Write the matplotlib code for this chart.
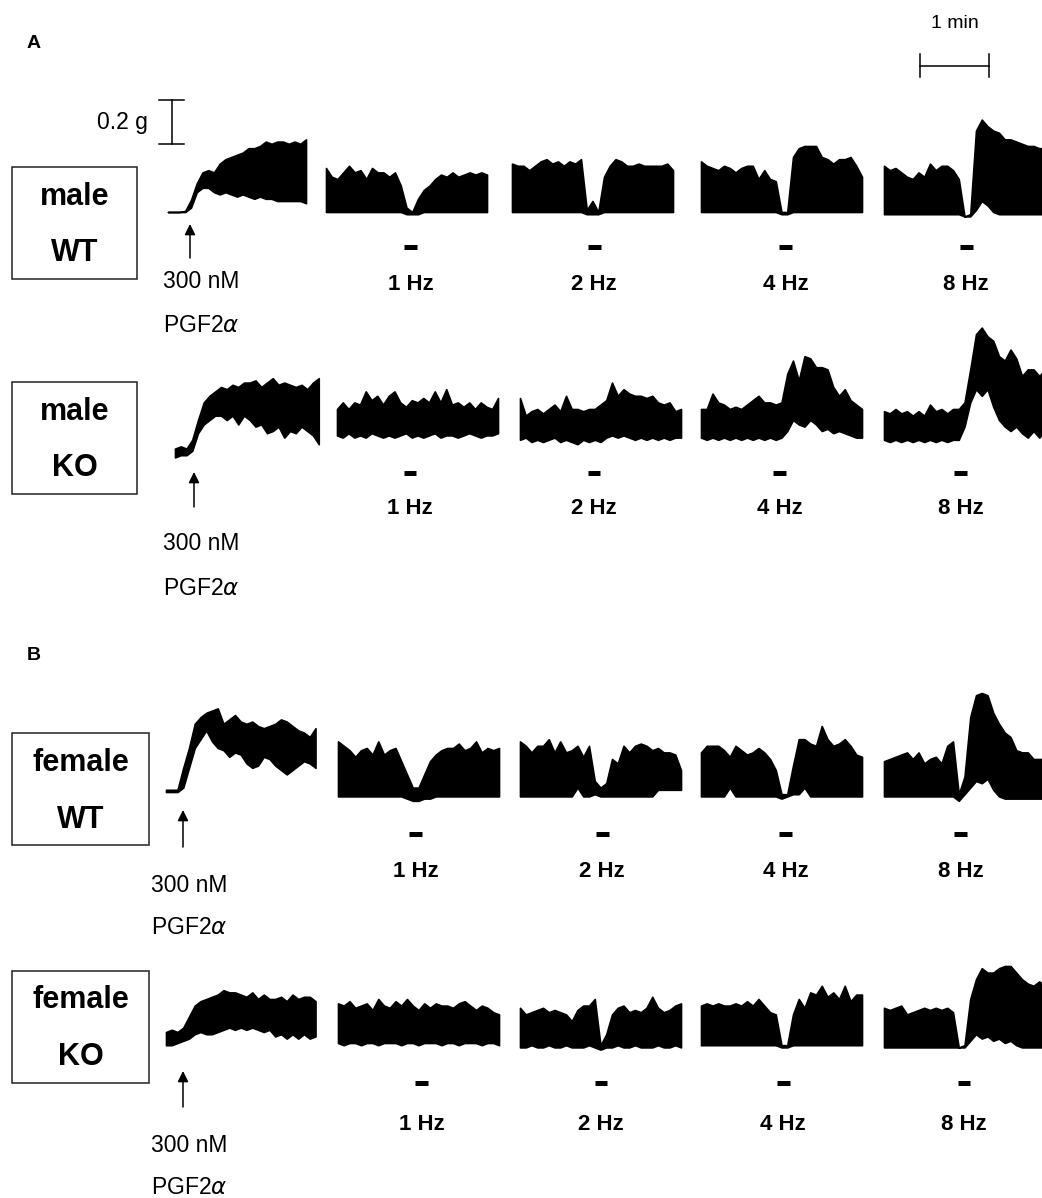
import numpy as np
import matplotlib.pyplot as plt
from matplotlib.patches import Rectangle

plt.rcParams["font.family"] = ["Liberation Sans", "DejaVu Sans"]

W, H = 1042, 1198
PX_PER_S = 69 / 60.0      # 1 min scale bar is 69 px long
PX_PER_G = 44 / 0.2       # 0.2 g scale bar is 44 px tall
STEP_S = 5                # envelopes are read every 5 s

# tension envelopes (g above the resting level), one value every 5 s
# male WT
MWT_PGF_HI = [0.00, 0.00, 0.00, 0.005, 0.055, 0.13, 0.18, 0.19, 0.18, 0.22, 0.24, 0.25, 0.26,
              0.27, 0.29, 0.29, 0.30, 0.32, 0.31, 0.32, 0.32, 0.31, 0.32, 0.31, 0.33]
MWT_PGF_LO = [0.00, 0.00, 0.00, 0.00, 0.02, 0.09, 0.11, 0.11, 0.09, 0.08, 0.09, 0.08, 0.07,
              0.08, 0.07, 0.06, 0.07, 0.06, 0.06, 0.05, 0.05, 0.05, 0.05, 0.05, 0.04]
MWT_1HZ_HI = [0.20, 0.16, 0.15, 0.18, 0.21, 0.18, 0.19, 0.15, 0.20, 0.18, 0.18, 0.16, 0.18, 0.12, 0.02,
              0.00, 0.06, 0.10, 0.12, 0.15, 0.17, 0.16, 0.18, 0.16, 0.17, 0.18, 0.17, 0.18, 0.17]
MWT_1HZ_LO = [0.00, 0.00, 0.00, 0.00, 0.00, 0.00, 0.00, 0.00, 0.00, 0.00, 0.00, 0.00, 0.00, 0.00, -0.01,
              -0.01, -0.01, 0.00, 0.00, 0.00, 0.00, 0.00, 0.00, 0.00, 0.00, 0.00, 0.00, 0.00, 0.00]
MWT_2HZ_HI = [0.22, 0.21, 0.21, 0.19, 0.21, 0.23, 0.24, 0.22, 0.23, 0.21, 0.23, 0.22, 0.24, 0.01, 0.05,
              0.00, 0.16, 0.21, 0.24, 0.23, 0.21, 0.21, 0.22, 0.21, 0.21, 0.21, 0.21, 0.22, 0.19]
MWT_2HZ_LO = [0.00, 0.00, 0.00, 0.00, 0.00, 0.00, 0.00, 0.00, 0.00, 0.00, 0.00, 0.00, 0.00, -0.01, -0.01,
              -0.01, 0.00, 0.00, 0.00, 0.00, 0.00, 0.00, 0.00, 0.00, 0.00, 0.00, 0.00, 0.00, 0.00]
MWT_4HZ_HI = [0.23, 0.21, 0.20, 0.19, 0.21, 0.20, 0.18, 0.20, 0.21, 0.21, 0.15, 0.19, 0.15, 0.14, 0.00,
              0.00, 0.25, 0.29, 0.30, 0.30, 0.30, 0.25, 0.24, 0.22, 0.24, 0.24, 0.25, 0.21, 0.16]
MWT_4HZ_LO = [0.00, 0.00, 0.00, 0.00, 0.00, 0.00, 0.00, 0.00, 0.00, 0.00, 0.00, 0.00, 0.00, 0.00, -0.01,
              -0.01, 0.00, 0.00, 0.00, 0.00, 0.00, 0.00, 0.00, 0.00, 0.00, 0.00, 0.00, 0.00, 0.00]
MWT_8HZ_HI = [0.21, 0.19, 0.20, 0.18, 0.16, 0.15, 0.18, 0.16, 0.22, 0.19, 0.21, 0.21, 0.19, 0.15, -0.02,
              -0.01, 0.37, 0.42, 0.39, 0.37, 0.36, 0.33, 0.33, 0.32, 0.31, 0.30, 0.30, 0.29, 0.29]
MWT_8HZ_LO = [-0.01, -0.01, -0.01, -0.01, -0.01, -0.01, -0.01, -0.01, -0.01, -0.01, -0.01, -0.01, -0.01,
              -0.01, -0.02, -0.02, 0.01, 0.05, 0.03, 0.00, -0.01, -0.01, -0.01, -0.01, -0.01, -0.01,
              -0.01, -0.01, -0.01]

# male KO
MKO_PGF_HI = [0.02, 0.03, 0.02, 0.06, 0.15, 0.23, 0.26, 0.28, 0.30, 0.29, 0.31, 0.30, 0.32,
              0.32, 0.33, 0.30, 0.32, 0.34, 0.31, 0.32, 0.31, 0.30, 0.31, 0.29, 0.32, 0.34]
MKO_PGF_LO = [-0.02, -0.01, -0.01, 0.01, 0.09, 0.13, 0.15, 0.17, 0.17, 0.15, 0.17, 0.13, 0.17,
              0.15, 0.12, 0.13, 0.09, 0.10, 0.12, 0.07, 0.10, 0.09, 0.12, 0.10, 0.08, 0.04]
MKO_1HZ_HI = [0.20, 0.23, 0.20, 0.23, 0.22, 0.28, 0.24, 0.26, 0.22, 0.26, 0.28, 0.23, 0.21, 0.24, 0.23,
              0.25, 0.23, 0.28, 0.23, 0.29, 0.22, 0.23, 0.21, 0.23, 0.20, 0.23, 0.21, 0.20, 0.25]
MKO_1HZ_LO = [0.08, 0.07, 0.09, 0.07, 0.08, 0.07, 0.09, 0.08, 0.07, 0.08, 0.07, 0.08, 0.09, 0.07, 0.08,
              0.07, 0.08, 0.09, 0.07, 0.08, 0.08, 0.07, 0.08, 0.09, 0.08, 0.07, 0.08, 0.08, 0.09]
MKO_2HZ_HI = [0.25, 0.17, 0.19, 0.20, 0.18, 0.20, 0.22, 0.19, 0.26, 0.20, 0.20, 0.19, 0.20, 0.20, 0.22,
              0.24, 0.32, 0.26, 0.29, 0.27, 0.26, 0.26, 0.25, 0.26, 0.23, 0.22, 0.23, 0.19, 0.20]
MKO_2HZ_LO = [0.06, 0.07, 0.05, 0.06, 0.05, 0.06, 0.07, 0.05, 0.06, 0.05, 0.04, 0.06, 0.05, 0.06, 0.05,
              0.07, 0.08, 0.07, 0.08, 0.07, 0.06, 0.07, 0.06, 0.07, 0.06, 0.07, 0.06, 0.07, 0.07]
MKO_4HZ_HI = [0.20, 0.20, 0.27, 0.23, 0.22, 0.20, 0.21, 0.20, 0.22, 0.24, 0.26, 0.23, 0.23, 0.22, 0.23,
              0.36, 0.42, 0.33, 0.44, 0.43, 0.39, 0.39, 0.38, 0.30, 0.26, 0.29, 0.24, 0.22, 0.20]
MKO_4HZ_LO = [0.07, 0.06, 0.07, 0.06, 0.07, 0.06, 0.07, 0.06, 0.07, 0.06, 0.07, 0.06, 0.07, 0.06, 0.07,
              0.10, 0.15, 0.13, 0.12, 0.15, 0.13, 0.10, 0.11, 0.09, 0.10, 0.09, 0.08, 0.07, 0.07]
MKO_8HZ_HI = [0.19, 0.18, 0.20, 0.18, 0.19, 0.17, 0.19, 0.17, 0.22, 0.19, 0.20, 0.18, 0.20, 0.20, 0.23,
              0.38, 0.54, 0.57, 0.53, 0.51, 0.44, 0.42, 0.47, 0.43, 0.35, 0.38, 0.38, 0.35, 0.38]
MKO_8HZ_LO = [0.06, 0.05, 0.06, 0.05, 0.06, 0.05, 0.06, 0.05, 0.06, 0.05, 0.06, 0.05, 0.06, 0.06, 0.12,
              0.23, 0.29, 0.26, 0.29, 0.21, 0.15, 0.12, 0.10, 0.12, 0.09, 0.07, 0.10, 0.07, 0.10]

# female WT
FWT_PGF_HI = [0.01, 0.01, 0.01, 0.11, 0.20, 0.31, 0.34, 0.36, 0.37, 0.38, 0.31, 0.33, 0.35, 0.32,
              0.31, 0.32, 0.30, 0.29, 0.30, 0.31, 0.33, 0.32, 0.30, 0.28, 0.27, 0.25, 0.29]
FWT_PGF_LO = [0.00, 0.00, 0.00, 0.02, 0.11, 0.20, 0.24, 0.28, 0.23, 0.20, 0.19, 0.16, 0.18, 0.17,
              0.13, 0.11, 0.12, 0.16, 0.15, 0.12, 0.10, 0.08, 0.10, 0.12, 0.14, 0.13, 0.11]
FWT_1HZ_HI = [0.23, 0.21, 0.19, 0.16, 0.19, 0.20, 0.17, 0.23, 0.17, 0.19, 0.20, 0.14, 0.08, 0.02, 0.02,
              0.08, 0.14, 0.17, 0.19, 0.20, 0.20, 0.22, 0.19, 0.20, 0.23, 0.18, 0.20, 0.19, 0.20]
FWT_1HZ_LO = [-0.02, -0.02, -0.02, -0.02, -0.02, -0.02, -0.02, -0.02, -0.02, -0.02, -0.02, -0.02, -0.03,
              -0.04, -0.04, -0.03, -0.03, -0.02, -0.02, -0.02, -0.02, -0.02, -0.02, -0.02, -0.02, -0.02,
              -0.02, -0.02, -0.02]
FWT_2HZ_HI = [0.23, 0.21, 0.18, 0.21, 0.21, 0.24, 0.18, 0.23, 0.18, 0.19, 0.21, 0.16, 0.21, 0.05, 0.02,
              0.04, 0.15, 0.13, 0.21, 0.18, 0.21, 0.22, 0.21, 0.19, 0.20, 0.18, 0.18, 0.17, 0.10]
FWT_2HZ_LO = [-0.02, -0.02, -0.02, -0.02, -0.02, -0.02, -0.02, -0.02, -0.02, -0.02, 0.02, -0.02, -0.02,
              -0.01, -0.02, -0.02, -0.02, -0.02, -0.02, -0.02, -0.02, -0.02, -0.02, -0.02, 0.01, 0.01,
              0.01, 0.01, 0.01]
FWT_4HZ_HI = [0.18, 0.21, 0.21, 0.21, 0.19, 0.16, 0.21, 0.19, 0.17, 0.18, 0.20, 0.18, 0.15, 0.10, -0.01,
              -0.01, 0.12, 0.24, 0.24, 0.22, 0.21, 0.30, 0.24, 0.21, 0.22, 0.24, 0.21, 0.17, 0.16]
FWT_4HZ_LO = [-0.02, -0.02, -0.02, -0.02, -0.02, 0.02, -0.02, -0.02, -0.02, -0.02, -0.02, -0.02, -0.02,
              -0.02, -0.03, -0.02, -0.01, -0.01, 0.02, -0.02, -0.02, -0.02, -0.02, -0.02, -0.02, -0.02,
              -0.02, -0.02, -0.02]
FWT_8HZ_HI = [0.14, 0.15, 0.16, 0.17, 0.18, 0.15, 0.18, 0.13, 0.15, 0.16, 0.13, 0.21, 0.23, -0.01, 0.07,
              0.34, 0.44, 0.45, 0.44, 0.36, 0.31, 0.27, 0.25, 0.19, 0.18, 0.18, 0.15, 0.15, 0.15]
FWT_8HZ_LO = [-0.02, -0.02, -0.02, -0.02, -0.02, -0.02, -0.02, -0.02, -0.02, -0.02, -0.02, -0.02, -0.02,
              -0.04, -0.01, 0.02, 0.05, 0.04, 0.06, 0.01, -0.02, -0.03, -0.03, -0.03, -0.03, -0.03,
              -0.03, -0.03, -0.03]

# female KO
FKO_PGF_HI = [0.05, 0.06, 0.05, 0.07, 0.12, 0.17, 0.19, 0.20, 0.21, 0.22, 0.24, 0.23, 0.23, 0.22,
              0.21, 0.23, 0.20, 0.22, 0.20, 0.20, 0.21, 0.19, 0.22, 0.20, 0.21, 0.21, 0.19]
FKO_PGF_LO = [-0.01, -0.01, 0.00, 0.01, 0.02, 0.04, 0.05, 0.04, 0.04, 0.05, 0.06, 0.07, 0.06, 0.07,
              0.06, 0.07, 0.06, 0.05, 0.06, 0.03, 0.04, 0.02, 0.04, 0.02, 0.04, 0.02, 0.03]
FKO_1HZ_HI = [0.18, 0.17, 0.19, 0.16, 0.17, 0.18, 0.15, 0.20, 0.17, 0.16, 0.19, 0.17, 0.20, 0.17, 0.15,
              0.18, 0.16, 0.18, 0.17, 0.17, 0.16, 0.18, 0.19, 0.17, 0.15, 0.17, 0.16, 0.14, 0.13]
FKO_1HZ_LO = [0.00, -0.01, 0.00, 0.00, -0.01, 0.00, 0.00, -0.01, 0.00, 0.00, 0.00, -0.01, 0.00, 0.00,
              -0.01, 0.00, 0.00, 0.00, -0.01, 0.00, 0.00, -0.01, 0.00, 0.00, 0.00, -0.01, 0.00, 0.00, -0.01]
FKO_2HZ_HI = [0.16, 0.13, 0.14, 0.15, 0.16, 0.14, 0.15, 0.14, 0.13, 0.10, 0.15, 0.17, 0.17, 0.20, -0.01,
              0.04, 0.13, 0.16, 0.17, 0.14, 0.15, 0.14, 0.16, 0.21, 0.16, 0.14, 0.15, 0.17, 0.18]
FKO_2HZ_LO = [-0.02, -0.02, -0.01, -0.02, -0.02, -0.01, -0.02, -0.02, -0.01, -0.02, -0.02, -0.02, -0.01,
              -0.02, -0.03, -0.02, -0.02, -0.01, -0.02, -0.02, -0.01, -0.02, -0.02, -0.02, -0.01, -0.02,
              -0.02, -0.01, -0.02]
FKO_4HZ_HI = [0.17, 0.18, 0.17, 0.18, 0.17, 0.17, 0.18, 0.17, 0.19, 0.17, 0.20, 0.17, 0.14, 0.13, -0.01,
              -0.01, 0.13, 0.20, 0.16, 0.23, 0.22, 0.26, 0.21, 0.23, 0.20, 0.26, 0.19, 0.22, 0.22]
FKO_4HZ_LO = [-0.01, -0.01, -0.01, -0.01, -0.01, -0.01, -0.01, -0.01, -0.01, -0.01, -0.01, -0.01, -0.01,
              -0.01, -0.02, -0.02, -0.01, -0.01, -0.01, -0.01, -0.01, -0.01, -0.01, -0.01, -0.01, -0.01,
              -0.01, -0.01, -0.01]
FKO_8HZ_HI = [0.16, 0.15, 0.16, 0.17, 0.13, 0.14, 0.15, 0.16, 0.15, 0.16, 0.15, 0.16, 0.14, -0.02, -0.01,
              0.20, 0.29, 0.34, 0.32, 0.32, 0.34, 0.35, 0.35, 0.32, 0.29, 0.27, 0.26, 0.28, 0.26]
FKO_8HZ_LO = [-0.02, -0.02, -0.02, -0.02, -0.02, -0.02, -0.02, -0.02, -0.02, -0.02, -0.02, -0.02, -0.02,
              -0.02, -0.02, 0.01, 0.04, 0.02, 0.03, 0.01, 0.02, 0.00, 0.01, -0.01, -0.02, -0.02, -0.02,
              -0.02, -0.02]

FREQ_LABELS = ["1 Hz", "2 Hz", "4 Hz", "8 Hz"]
# stimulation onset (s from start of each stimulation trace), duration 11 s
MWT_STIM_ON = [68, 66, 68, 66]
MKO_STIM_ON = [58, 59, 63, 61]
FWT_STIM_ON = [62, 66, 68, 61]
FKO_STIM_ON = [67, 65, 66, 64]
STIM_DUR = 11

# layout (pixels)
rows = [
    dict(name=("male", "WT"), box=(12, 167, 137, 279), txt_y=(197, 253), base=212,
         starts=[168, 326, 512, 701, 884], arrow=(190, 258, 224), drug_xy=(163, 281, 326),
         stim_y=247, lab_y=284,
         hi=[MWT_PGF_HI, MWT_1HZ_HI, MWT_2HZ_HI, MWT_4HZ_HI, MWT_8HZ_HI],
         lo=[MWT_PGF_LO, MWT_1HZ_LO, MWT_2HZ_LO, MWT_4HZ_LO, MWT_8HZ_LO], stim=MWT_STIM_ON),
    dict(name=("male", "KO"), box=(12, 382, 137, 494), txt_y=(412, 468), base=453,
         starts=[175, 337, 520, 701, 884], arrow=(194, 507, 472), drug_xy=(163, 544, 588),
         stim_y=473, lab_y=509,
         hi=[MKO_PGF_HI, MKO_1HZ_HI, MKO_2HZ_HI, MKO_4HZ_HI, MKO_8HZ_HI],
         lo=[MKO_PGF_LO, MKO_1HZ_LO, MKO_2HZ_LO, MKO_4HZ_LO, MKO_8HZ_LO], stim=MKO_STIM_ON),
    dict(name=("female", "WT"), box=(12, 733, 149, 845), txt_y=(763, 820), base=792,
         starts=[166, 338, 520, 701, 884], arrow=(183, 847, 810), drug_xy=(151, 885, 927),
         stim_y=834, lab_y=871,
         hi=[FWT_PGF_HI, FWT_1HZ_HI, FWT_2HZ_HI, FWT_4HZ_HI, FWT_8HZ_HI],
         lo=[FWT_PGF_LO, FWT_1HZ_LO, FWT_2HZ_LO, FWT_4HZ_LO, FWT_8HZ_LO], stim=FWT_STIM_ON),
    dict(name=("female", "KO"), box=(12, 971, 149, 1083), txt_y=(1000, 1057), base=1043,
         starts=[166, 338, 520, 701, 884], arrow=(183, 1107, 1071), drug_xy=(151, 1145, 1187),
         stim_y=1083, lab_y=1124,
         hi=[FKO_PGF_HI, FKO_1HZ_HI, FKO_2HZ_HI, FKO_4HZ_HI, FKO_8HZ_HI],
         lo=[FKO_PGF_LO, FKO_1HZ_LO, FKO_2HZ_LO, FKO_4HZ_LO, FKO_8HZ_LO], stim=FKO_STIM_ON),
]


def xs(px):
    return px / PX_PER_S


def ys(py):
    return -py / PX_PER_G


fig = plt.figure(figsize=(W / 100, H / 100), dpi=100)
ax = fig.add_axes([0, 0, 1, 1])
ax.set_xlim(0, xs(W))
ax.set_ylim(ys(H), 0)
ax.axis("off")

for r in rows:
    y0 = ys(r["base"])
    for x0, hi, lo in zip(r["starts"], r["hi"], r["lo"]):
        t = xs(x0) + np.arange(len(hi)) * STEP_S
        ax.fill_between(t, y0 + np.array(lo), y0 + np.array(hi), color="black",
                        edgecolor="black", linewidth=1.2)
    # stimulation bars and frequency labels
    for x0, on, lab in zip(r["starts"][1:], r["stim"], FREQ_LABELS):
        t_on = xs(x0) + on
        ax.plot([t_on, t_on + STIM_DUR], [ys(r["stim_y"])] * 2, color="black", lw=3.6,
                solid_capstyle="butt")
        ax.text(t_on + STIM_DUR / 2, ys(r["lab_y"]), lab, ha="center", va="center",
                fontsize=16, fontweight="bold")
    # group box
    bx0, by0, bx1, by1 = r["box"]
    ax.add_patch(Rectangle((xs(bx0), ys(by1)), xs(bx1) - xs(bx0), ys(by0) - ys(by1),
                           fill=False, edgecolor="#222222", lw=1.1))
    cx = xs((bx0 + bx1) / 2)
    for word, ty in zip(r["name"], r["txt_y"]):
        ax.text(cx, ys(ty), word, ha="center", va="center", fontsize=22, fontweight="bold")
    # drug addition arrow
    axx, tail, tip = r["arrow"]
    ax.annotate("", xy=(xs(axx), ys(tip)), xytext=(xs(axx), ys(tail)),
                arrowprops=dict(arrowstyle="-|>", color="black", lw=1.1,
                                mutation_scale=16, shrinkA=0, shrinkB=0))
    dx, dy1, dy2 = r["drug_xy"]
    ax.text(xs(dx), ys(dy1), "300 nM", ha="left", va="center", fontsize=16.5)
    ax.text(xs(dx), ys(dy2), "PGF2$\\alpha$", ha="left", va="center", fontsize=16.5)

# scale bars: 0.2 g and 1 min
sb_x = xs(172)
sb_top = ys(100)
ax.plot([sb_x, sb_x], [sb_top - 0.2, sb_top], color="black", lw=1.1)
for yy in (sb_top, sb_top - 0.2):
    ax.plot([xs(159), xs(184)], [yy, yy], color="black", lw=1.1)
ax.text(xs(148), ys(122), "0.2 g", ha="right", va="center", fontsize=16.5)

tb_x = xs(920)
tb_y = ys(66)
ax.plot([tb_x, tb_x + 60], [tb_y, tb_y], color="black", lw=1.1)
for xx in (tb_x, tb_x + 60):
    ax.plot([xx, xx], [ys(54), ys(77)], color="black", lw=1.1)
ax.text(tb_x + 30, ys(23), "1 min", ha="center", va="center", fontsize=14)

ax.text(xs(27), ys(44), "A", ha="left", va="center", fontsize=14, fontweight="bold")
ax.text(xs(27), ys(655), "B", ha="left", va="center", fontsize=14, fontweight="bold")

fig.savefig("out.png", dpi=100)
